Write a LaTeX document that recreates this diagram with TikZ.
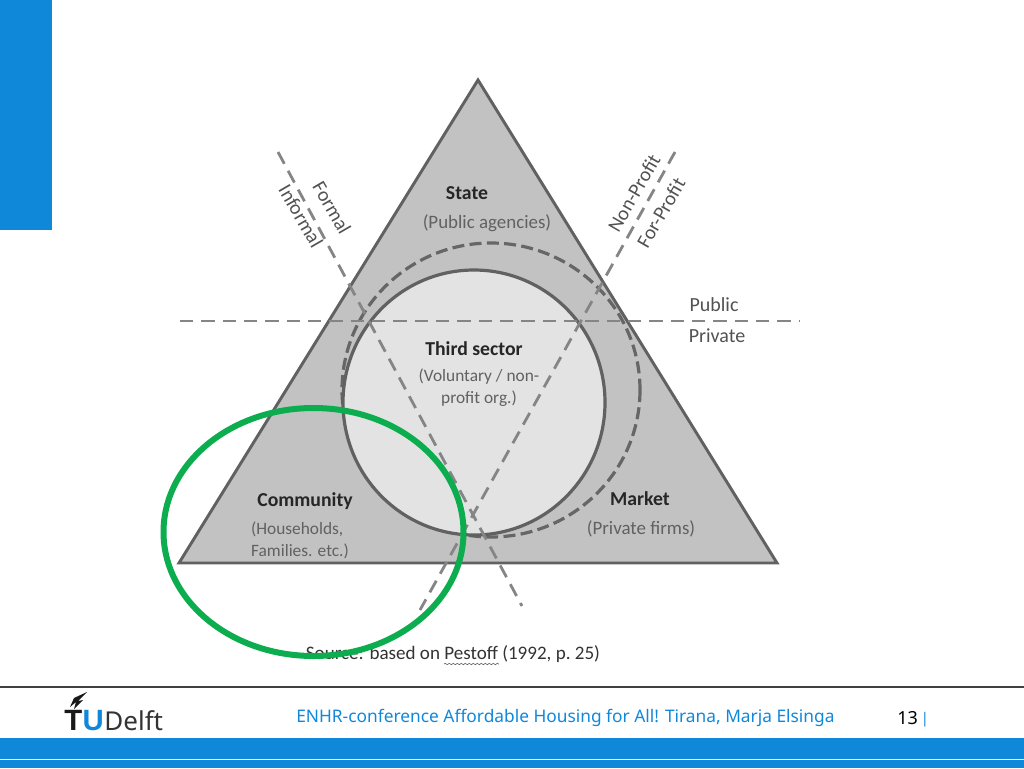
\documentclass[tikz,border=0pt]{standalone}
\usepackage{fontspec}
\setmainfont{Carlito}
\newfontfamily\footfont{Noto Sans}
\newfontfamily\logofont{Liberation Sans}
\usepackage{xcolor}
\usetikzlibrary{positioning}
\usetikzlibrary{decorations.pathmorphing}
\definecolor{tublue}{HTML}{1088DA}
\definecolor{ringgreen}{HTML}{0BAD4E}
\tikzset{
	head/.style={font=\fontsize{14.8}{16}\selectfont\bfseries, text=black!85},
	sub/.style={font=\fontsize{14.2}{16.5}\selectfont, text=black!62, align=left},
	subsmall/.style={font=\fontsize{13}{16.5}\selectfont, text=black!62, align=left},
	side/.style={font=\fontsize{15}{16}\selectfont, text=black!68},
	divide/.style={draw=black!48, line width=2.1pt, dash pattern=on 10pt off 6pt},
}

\begin{document}
\begin{tikzpicture}[x=0.75pt, y=-0.75pt]
		\useasboundingbox (0,0) rectangle (1024,768);
		\fill[tublue] (0,0) rectangle (52,230);
		
		\coordinate (top) at (478,80);
		\coordinate (left) at (179,563);
		\coordinate (right) at (777,563);
		\draw[fill=black!24, draw=black!62, line width=2.2pt] (top) -- (right) -- (left) -- cycle;
		\draw[draw=black!60, line width=2.4pt, dash pattern=on 9pt off 4pt] (491,390) ellipse [x radius=149, y radius=147];
		\draw[fill=black!11, draw=black!62, line width=2.4pt] (474,402.5) ellipse [x radius=131, y radius=132.5];
		
		\coordinate (pubA) at (180,321);
		\coordinate (pubB) at (800,321);
		\coordinate (forA) at (278,152);
		\coordinate (forB) at (522,606);
		\coordinate (proA) at (675,152);
		\coordinate (proB) at (420,610);
		\draw[divide] (pubA) -- (pubB);
		\draw[divide] (forA) -- (forB);
		\draw[divide] (proA) -- (proB);
		
		\node[head] (state) at (467,193) {State};
		\node[sub] (agencies) at (487,223) {(Public agencies)};
		\node[head] (third) at (474,349) {Third sector};
		\node[subsmall, align=center] (voluntary) at (479,388) {(Voluntary / non-\\profit org.)};
		\node[head] (community) at (305,501) {Community};
		\node[subsmall] (households) at (300,540) {(Households,\\Families. etc.)};
		\node[head] (market) at (640,499) {Market};
		\node[sub] (firms) at (641,529) {(Private firms)};
		
		\node[side] (public) at (714,305) {Public};
		\node[side] (private) at (717,336) {Private};
		\node[side, rotate=-60] (formal) at (332,208) {Formal};
		\node[side, rotate=-60] (informal) at (301,216) {Informal};
		\node[side, rotate=60] (nonprofit) at (634,193) {Non-Profit};
		\node[side, rotate=60] (forprofit) at (661,213) {For-Profit};
		
		\node[font=\fontsize{14.3}{16}\selectfont, text=black!80] (source) at (453,654) {Source: based on Pestoff (1992, p.\ 25)};
		\draw[black!60, line width=0.5pt, decorate, decoration={snake, amplitude=0.5pt, segment length=3pt}] (444,664) -- (499,664);
		\draw[ringgreen, line width=4.5pt] (313.5,532) ellipse [x radius=150, y radius=124];
		
		\draw[black!75, line width=1.2pt] (0,687) -- (1024,687);
		\fill[tublue] (0,738) rectangle (1024,768);
		\fill[white] (0,758.5) rectangle (1024,760);
		
		\node[font=\footfont\fontsize{13}{16}\selectfont, text=tublue, anchor=west, inner sep=0pt] (talk) at (296,718) {ENHR-conference Affordable Housing for All! Tirana, Marja Elsinga};
		\node[font=\footfont\fontsize{13.5}{16}\selectfont, text=black, anchor=west, inner sep=0pt] (page) at (897,718) {13};
		\node[font=\footfont\fontsize{11}{14}\selectfont, text=tublue, inner sep=0pt] (bar) at (925,720) {|};
		
		\node[font=\logofont\fontsize{22}{24}\selectfont\bfseries, text=black!90, anchor=base west, inner sep=0pt] (logoT) at (64,730) {T};
		\node[font=\logofont\fontsize{22}{24}\selectfont\bfseries, text=tublue, anchor=base west, inner sep=0pt] (logoU) at (logoT.base east) {U};
		\node[font=\footfont\fontsize{19.5}{20}\selectfont, text=black!80, anchor=base west, inner sep=0pt] (logoD) at (logoU.base east) {Delft};
		\fill[black!90] (87,692) -- (74,698) -- (70,707) -- (76,702) -- (74,709) -- (83,700) -- (78,701) -- cycle;
	\end{tikzpicture}
\end{document}
